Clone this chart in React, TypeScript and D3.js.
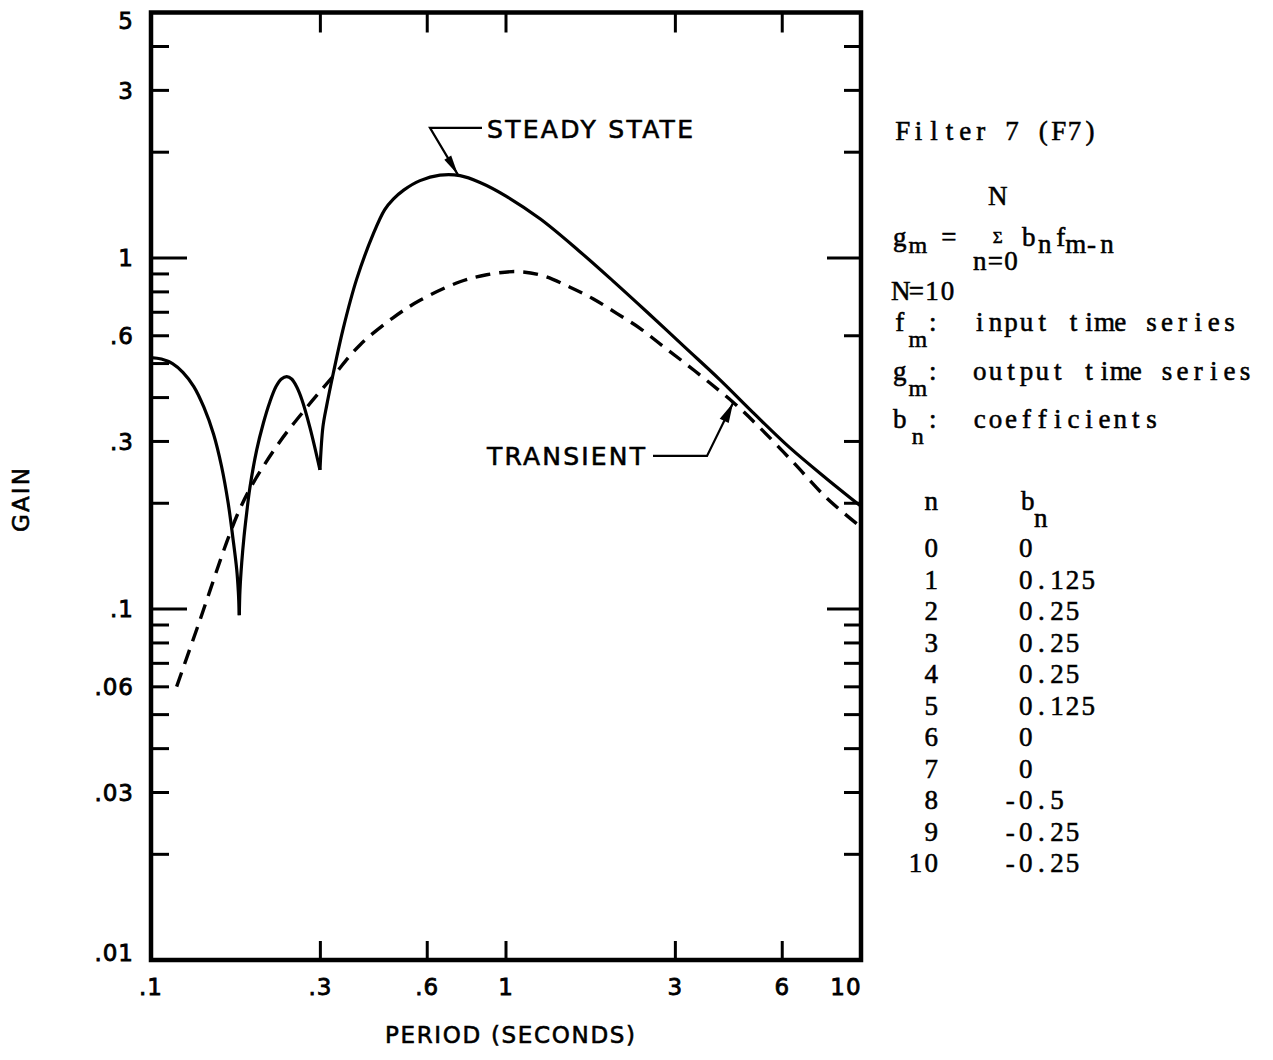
import React from "react";
import * as d3 from "d3";

const W = 1273;
const H = 1060;

// ---------- data (period in seconds, gain) ----------
const steadyState: [number, number][] = [
  [0.1, 0.52], [0.107, 0.515], [0.115, 0.5], [0.123, 0.472], [0.132, 0.43],
  [0.141, 0.375], [0.15, 0.315], [0.158, 0.255], [0.165, 0.2], [0.17, 0.16],
  [0.1743, 0.13], [0.1762, 0.112], [0.1773, 0.096],
  [0.1781, 0.1133], [0.1801, 0.1352], [0.1828, 0.1604], [0.186, 0.1877], [0.19, 0.222],
  [0.1985, 0.2838], [0.2072, 0.3381], [0.2164, 0.39], [0.225, 0.43], [0.233, 0.452],
  [0.2412, 0.459], [0.249, 0.452], [0.257, 0.43], [0.266, 0.395], [0.2805, 0.328],
  [0.2992, 0.249],
  [0.305, 0.33], [0.3126, 0.38], [0.3263, 0.47], [0.348, 0.63], [0.3796, 0.87],
  [0.4228, 1.17], [0.455, 1.37], [0.4814, 1.47], [0.515, 1.56], [0.5725, 1.66],
  [0.6517, 1.72], [0.7419, 1.715], [0.8449, 1.64], [1.0, 1.5], [1.25, 1.29],
  [1.6, 1.05], [2.0, 0.86], [2.5, 0.7], [3.2, 0.555], [4.0, 0.45], [5.0, 0.36],
  [6.3, 0.288], [8.0, 0.235], [10, 0.196],
];
const steadyCusps = [0.1773, 0.2992];

const transient: [number, number][] = [
  [0.1181, 0.0601], [0.1374, 0.093], [0.1634, 0.155], [0.1781, 0.193], [0.1938, 0.228],
  [0.2309, 0.3], [0.2746, 0.375], [0.3257, 0.46], [0.3879, 0.565], [0.4805, 0.675],
  [0.5725, 0.757], [0.7419, 0.855], [0.8822, 0.895], [1.072, 0.914], [1.271, 0.89],
  [1.515, 0.825], [1.758, 0.765], [2.05, 0.695], [2.385, 0.63], [2.769, 0.56],
  [3.228, 0.497], [3.754, 0.44], [4.4, 0.385], [5.194, 0.328], [6.435, 0.262],
  [8.006, 0.207], [10, 0.171],
];

const xTickValues = [0.1, 0.3, 0.6, 1, 3, 6, 10];
const xTickLabels = [".1", ".3", ".6", "1", "3", "6", "10"];
const xInnerTicks = [0.3, 0.6, 1, 3, 6];

const yLabelValues = [5, 3, 1, 0.6, 0.3, 0.1, 0.06, 0.03, 0.01];
const yLabels = ["5", "3", "1", ".6", ".3", ".1", ".06", ".03", ".01"];
const yMajorTicks = [1, 0.1];
const yMinorLeft = [4, 3, 2, 0.9, 0.8, 0.7, 0.6, 0.5, 0.4, 0.3, 0.2, 0.09, 0.08, 0.07, 0.06, 0.05, 0.04, 0.03, 0.02];
const yMinorRight = [4, 3, 2, 0.6, 0.3, 0.2, 0.09, 0.08, 0.07, 0.06, 0.05, 0.04, 0.03, 0.02];

const coefN = [0, 1, 2, 3, 4, 5, 6, 7, 8, 9, 10];
const coefB = [0, 0.125, 0.25, 0.25, 0.25, 0.125, 0, 0, -0.5, -0.25, -0.25];

const legendRows = [
  { sym: "f", sub: "m", desc: "input time series" },
  { sym: "g", sub: "m", desc: "output time series" },
  { sym: "b", sub: "n", desc: "coefficients" },
];

const steadyArrowTip: [number, number] = [0.7324, 1.724];
const transientArrowTip: [number, number] = [4.36, 0.3863];

// ---------- layout ----------
const X0 = 151, X1 = 861, Y0 = 960, Y1 = 12.5;
const lettering = "'DejaVu Sans', sans-serif";
const typewriter = "'Liberation Serif', 'DejaVu Serif', serif";
const PITCH = 15.6;

// typewriter text: every character centred in a fixed-width cell
function TT({ x, y, text, end = false, size }: { x: number; y: number; text: string; end?: boolean; size?: number }) {
  const start = end ? x - text.length * PITCH : x;
  const xs = Array.from(text).map((_, i) => (start + (i + 0.5) * PITCH).toFixed(1)).join(" ");
  return (
    <text x={xs} y={y} textAnchor="middle" fontSize={size}>
      {text}
    </text>
  );
}

function Arrow({ from, to, len, half }: { from: [number, number]; to: [number, number]; len: number; half: number }) {
  const dx = to[0] - from[0], dy = to[1] - from[1];
  const L = Math.hypot(dx, dy);
  const ux = dx / L, uy = dy / L;
  const bx = to[0] - ux * len, by = to[1] - uy * len;
  const px = -uy, py = ux;
  const pts = `${to[0]},${to[1]} ${bx + px * half},${by + py * half} ${bx - px * half},${by - py * half}`;
  return <polygon points={pts} fill="#000" />;
}

export default function App() {
  const x = d3.scaleLog().domain([0.1, 10]).range([X0, X1]);
  const y = d3.scaleLog().domain([0.01, 5]).range([Y0, Y1]);

  const line = d3
    .line<[number, number]>()
    .x((d) => x(d[0]))
    .y((d) => y(d[1]))
    .curve(d3.curveCatmullRom.alpha(0.5));

  // split steady-state curve at cusp points so they stay sharp
  const segments: [number, number][][] = [];
  let cur: [number, number][] = [];
  steadyState.forEach((p) => {
    cur.push(p);
    if (steadyCusps.includes(p[0])) {
      segments.push(cur);
      cur = [p];
    }
  });
  segments.push(cur);

  const sTip: [number, number] = [x(steadyArrowTip[0]), y(steadyArrowTip[1])];
  const sElbow: [number, number] = [sTip[0] - 28, sTip[1] - 47];
  const tTip: [number, number] = [x(transientArrowTip[0]), y(transientArrowTip[1])];
  const tElbow: [number, number] = [tTip[0] - 26, tTip[1] + 53];

  const rowY = (i: number) => 557 + i * 31.5;
  const legendBase = [331, 380, 428];

  return (
    <svg
      width={W}
      height={H}
      viewBox={`0 0 ${W} ${H}`}
      style={{ position: "absolute", left: 0, top: 0, display: "block", background: "#fff" }}
    >
      <rect x={0} y={0} width={W} height={H} fill="#fff" />

      {/* curves */}
      {segments.map((seg, i) => (
        <path key={i} d={line(seg) || ""} fill="none" stroke="#000" strokeWidth={3.2} strokeLinejoin="round" />
      ))}
      <path d={line(transient) || ""} fill="none" stroke="#000" strokeWidth={3.4} strokeDasharray="15 9" />

      {/* frame */}
      <rect x={X0} y={Y1} width={X1 - X0} height={Y0 - Y1} fill="none" stroke="#000" strokeWidth={4.5} />

      {/* ticks */}
      <g stroke="#000" strokeWidth={3}>
        {yMinorLeft.map((v) => (
          <line key={"l" + v} x1={X0} x2={X0 + 18} y1={y(v)} y2={y(v)} />
        ))}
        {yMajorTicks.map((v) => (
          <line key={"lm" + v} x1={X0} x2={X0 + 36} y1={y(v)} y2={y(v)} />
        ))}
        {yMinorRight.map((v) => (
          <line key={"r" + v} x1={X1} x2={X1 - 17} y1={y(v)} y2={y(v)} />
        ))}
        {yMajorTicks.map((v) => (
          <line key={"rm" + v} x1={X1} x2={X1 - 34} y1={y(v)} y2={y(v)} />
        ))}
        {xInnerTicks.map((v) => (
          <line key={"b" + v} x1={x(v)} x2={x(v)} y1={Y0} y2={Y0 - 19} />
        ))}
        {xInnerTicks.map((v) => (
          <line key={"t" + v} x1={x(v)} x2={x(v)} y1={Y1} y2={Y1 + 20} />
        ))}
      </g>

      {/* tick labels */}
      <g fontFamily={lettering} fontSize={23} fill="#000" stroke="#000" strokeWidth={0.8} letterSpacing={1}>
        {yLabelValues.map((v, i) => (
          <text key={"yl" + v} x={134} y={Math.min(Math.max(y(v), 21), 953) + 8.4} textAnchor="end">
            {yLabels[i]}
          </text>
        ))}
        {xTickValues.map((v, i) => (
          <text key={"xl" + v} x={Math.min(x(v), 846)} y={995} textAnchor="middle">
            {xTickLabels[i]}
          </text>
        ))}
      </g>

      {/* axis titles */}
      <g fontFamily={lettering} fontSize={23} fill="#000" stroke="#000" strokeWidth={0.6}>
        <text x={385} y={1043} textLength={250} lengthAdjust="spacing">
          PERIOD (SECONDS)
        </text>
        <text
          transform="translate(29,500) rotate(-90)"
          x={0}
          y={0}
          textAnchor="middle"
          textLength={64}
          lengthAdjust="spacing"
        >
          GAIN
        </text>
      </g>

      {/* annotations */}
      <g stroke="#000" strokeWidth={2.2} fill="none">
        <polyline points={`${sElbow[0] + 52},${sElbow[1]} ${sElbow[0]},${sElbow[1]} ${sTip[0]},${sTip[1]}`} />
        <polyline points={`${tElbow[0] - 54},${tElbow[1]} ${tElbow[0]},${tElbow[1]} ${tTip[0]},${tTip[1]}`} />
      </g>
      <Arrow from={sElbow} to={sTip} len={20} half={4} />
      <Arrow from={tElbow} to={tTip} len={20} half={5} />
      <g fontFamily={lettering} fontSize={25} fill="#000" stroke="#000" strokeWidth={0.6}>
        <text x={sElbow[0] + 57} y={sElbow[1] + 10} textLength={206} lengthAdjust="spacing">
          STEADY STATE
        </text>
        <text x={tElbow[0] - 220} y={tElbow[1] + 9} textLength={158} lengthAdjust="spacing">
          TRANSIENT
        </text>
      </g>

      {/* right side description */}
      <g fontFamily={typewriter} fontSize={27} fill="#000" stroke="#000" strokeWidth={0.55}>
        <TT x={895} y={140} text="Filter 7 (F7)" />
        <TT x={990} y={205} text="N" />
        <TT x={892} y={246} text="g" />
        <TT x={910} y={253} text="m" size={24} />
        <TT x={941} y={246} text="=" />
        <TT x={990} y={243} text="Σ" size={17} />
        <TT x={1021} y={246} text="b" />
        <TT x={1037} y={253} text="n" />
        <TT x={1053} y={246} text="f" />
        <TT x={1068} y={253} text="m-n" />
        <TT x={972} y={270} text="n=0" />
        <TT x={893} y={300} text="N=10" />
        {legendRows.map((r, i) => (
          <g key={r.desc}>
            <TT x={892} y={legendBase[i]} text={r.sym} />
            <TT x={910} y={legendBase[i] + 16} text={r.sub} size={24} />
            <TT x={925} y={legendBase[i]} text=":" />
            <TT x={972} y={legendBase[i]} text={r.desc} />
          </g>
        ))}

        {/* coefficient table */}
        <TT x={939} y={510} text="n" end />
        <TT x={1020} y={510} text="b" />
        <TT x={1033} y={527} text="n" />
        {coefN.map((n, i) => (
          <g key={"row" + n}>
            <TT x={939} y={rowY(i)} text={String(n)} end />
            {coefB[i] < 0 ? <TT x={1018} y={rowY(i)} text="-" end /> : null}
            <TT x={1018} y={rowY(i)} text={String(Math.abs(coefB[i]))} />
          </g>
        ))}
      </g>
    </svg>
  );
}
